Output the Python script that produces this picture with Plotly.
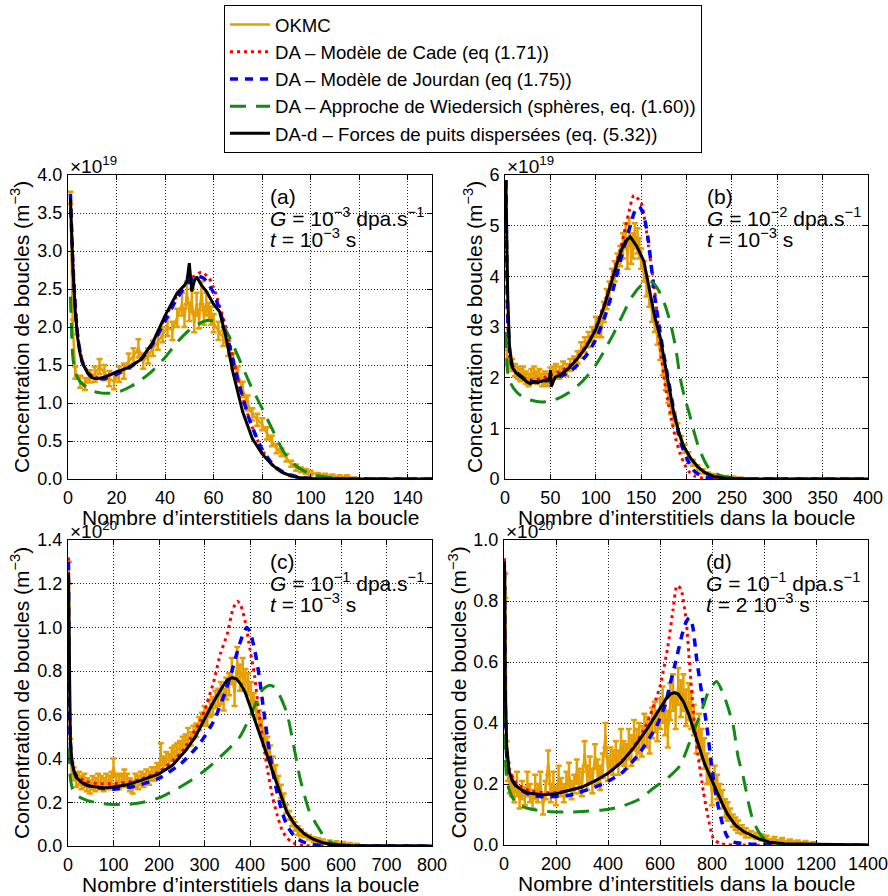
import plotly.graph_objects as go

# ---------------- Panel (a) : G = 1e-3 dpa/s, t = 1e-3 s  (units 1e19 m^-3)
A_OKMC_X = [1,2,3,5,7,9,11,13,15,17,19,21,23,25,27,29,31,33,35,37,39,41,43,45,47,48,49,50,51,52,
            53,54,55,56,57,58,59,60,62,64,66,68,70,72,74,76,78,80,82,84,86,88,90,92,94,96,98,100,103,106,
            109,112,115,118]
A_OKMC_Y = [3.7,2.0,1.4,1.28,1.25,1.35,1.38,1.48,1.4,1.32, 1.28,1.38,1.42,1.55,1.62,1.72,1.55,1.62,1.72,1.8,
            1.9,2.0,1.95,2.12,2.3,2.12,2.45,2.2,2.35,2.05, 2.3,2.1,2.45,2.15,2.3,2.2,2.15,2.05,1.95,1.85,
            1.72,1.55,1.38,1.18,1.0,0.85,0.78,0.72,0.6,0.5, 0.4,0.35,0.28,0.2,0.15,0.12,0.1,0.08,0.06,0.05,
            0.04,0.03,0.03,0.01]
A_OKMC_ERR = [0.08,0.1,0.08,0.08,0.08,0.08,0.1,0.1,0.1,0.1, 0.1,0.1,0.1,0.1,0.1,0.12,0.1,0.1,0.1,0.1,
              0.1,0.12,0.12,0.12,0.15,0.12,0.15,0.12,0.15,0.12, 0.15,0.12,0.15,0.12,0.15,0.12,0.12,0.12,0.12,0.1,
              0.1,0.1,0.1,0.1,0.1,0.08,0.08,0.08,0.08,0.07, 0.06,0.05,0.05,0.04,0.04,0.03,0.03,0.03,0.02,0.02,
              0.02,0.02,0.02,0.01]
A_CADE_X = [1,2,3,4,5,6,8,10,12,15,20,25,30,35,40,45,50,55,58,60,65,70,75,80,85,90,95,100,110,150]
A_CADE_Y = [3.75,2.9,2.3,1.9,1.68,1.55,1.42,1.36,1.34,1.34,1.4,1.47,1.58,1.8,2.12,2.42,2.62,2.72,2.65,2.52,
            2.0,1.32,0.76,0.38,0.16,0.06,0.02,0.005,0.001,0]
A_JOUR_X = [1,2,3,4,5,6,8,10,12,15,20,25,30,35,40,45,50,53,56,60,65,70,75,80,85,90,95,100,110,150]
A_JOUR_Y = [3.75,2.85,2.25,1.88,1.66,1.53,1.4,1.34,1.32,1.32,1.38,1.46,1.57,1.78,2.08,2.38,2.6,2.67,2.64,2.45,
            1.95,1.3,0.76,0.39,0.17,0.07,0.025,0.008,0.001,0]
A_WIED_X = [1,2,3,5,8,11,14,18,22,26,30,35,40,45,50,55,58,62,66,70,75,80,85,89,93,97,102,110,120,130,150]
A_WIED_Y = [2.4,1.6,1.4,1.28,1.2,1.15,1.13,1.13,1.16,1.22,1.3,1.43,1.6,1.8,1.96,2.06,2.09,2.05,1.9,1.62,
            1.25,0.93,0.6,0.35,0.2,0.11,0.05,0.015,0.004,0.001,0]
A_DAD_X = [1,2,3,4,5,6,8,10,12,15,20,22,25,30,35,40,45,48,49,50,51,52,53,55,57,60,62.5,65,68,72,
           76,80,84,88,92,96,100,110,150]
A_DAD_Y = [3.7,2.8,2.2,1.85,1.65,1.52,1.4,1.33,1.32,1.34,1.41,1.43,1.47,1.57,1.8,2.15,2.45,2.55,2.6,2.84,
           2.47,2.6,2.66,2.55,2.47,2.3,2.2,1.88,1.4,0.88,0.53,0.33,0.19,0.09,0.04,0.015,0.005,0.001,0]

# ---------------- Panel (b) : G = 1e-2 dpa/s, t = 1e-3 s  (units 1e19 m^-3)
B_OKMC_X = [2,5,8,11,14,17,20,23,26,29,32,35,38,41,44,47, 50,53,56,
            60,64,68,72,76,80,84,88,92,96,100, 103,106,109,112,115,118,121,124,127,130,
            133,135,137,139,141,143,146,148,150, 153,156,159,162,165,168,171,174,177,180,
            183,186,190,194,198,202,207,212,218,224, 230,237,244,252,260]
B_OKMC_Y = [2.4,2.3,2.25,2.15,2.1,2.05,2.1,2.0,1.95,2.05,2.1,2.0,2.05,1.95,2.0,1.95, 2.05,2.1,2.15,
            2.1,2.2,2.15,2.25,2.3,2.4,2.55,2.65,2.75,2.85,3.0, 3.0,2.95,3.3,3.55,3.7,3.95,4.1,4.25,4.4,4.6,
            4.8,4.4,4.9,4.5,4.6,4.8,4.7,4.55,4.35, 4.1,3.8,3.6,3.3,3.05,2.8,2.5,2.2,1.9,1.65,
            1.4,1.2,1.0,0.75,0.6,0.45,0.32,0.22,0.15,0.1, 0.07,0.05,0.04,0.03,0.02]
B_OKMC_ERR = [0.15,0.12,0.12,0.12,0.12,0.12,0.12,0.12,0.12,0.12,0.12,0.12,0.12,0.12,0.12,0.12, 0.15,0.12,0.12,
              0.12,0.12,0.12,0.12,0.12,0.12,0.15,0.15,0.15,0.15,0.2, 0.15,0.15,0.2,0.2,0.2,0.2,0.2,0.2,0.2,0.25,
              0.25,0.25,0.25,0.25,0.25,0.25,0.25,0.2,0.2, 0.2,0.2,0.2,0.2,0.15,0.15,0.15,0.15,0.15,0.15,
              0.12,0.12,0.1,0.1,0.08,0.08,0.06,0.05,0.04,0.03, 0.03,0.02,0.02,0.02,0.01]
B_CADE_X = [1,3,6,10,20,30,40,50,60,70,80,90,100,110,120,128,135,142,150,155,
            158,165,171,176,182,188,193,198,204,210,220,240,400]
B_CADE_Y = [5.9,3.0,2.3,2.15,2.0,1.95,1.98,2.05,2.12,2.22,2.4,2.65,3.0,3.5,4.1,4.6,5.15,5.6,5.45,5.0,
            4.6,3.7,2.6,1.9,1.3,0.8,0.5,0.28,0.12,0.05,0.01,0.001,0]
B_JOUR_X = [1,3,6,10,20,30,40,50,60,70,80,90,100,110,120,130,138,143,148,153,
            158,165,170,175,179,185,190,195,200,205,210,220,230,260,400]
B_JOUR_Y = [5.9,3.2,2.4,2.15,2.0,1.92,1.92,1.96,2.02,2.1,2.25,2.45,2.75,3.2,3.8,4.5,5.0,5.28,5.38,5.2,
            4.7,3.6,3.0,2.45,2.05,1.45,1.0,0.65,0.42,0.24,0.13,0.04,0.01,0.001,0]
B_WIED_X = [1,3,6,10,15,20,30,40,50,60,70,80,90,100,110,120,130,140,150,157,
            163,170,176,182,188,193,198,203,208,213,220,226,240,260,300,400]
B_WIED_Y = [2.9,2.1,1.9,1.78,1.68,1.62,1.55,1.52,1.54,1.6,1.7,1.84,2.02,2.25,2.55,2.88,3.25,3.6,3.82,3.9,
            3.88,3.7,3.45,3.1,2.6,2.0,1.6,1.3,0.95,0.65,0.35,0.18,0.05,0.012,0.001,0]
B_DAD_X = [1,3,5,8,12,18,24,28,32,36,40,45,49,50,51,55,60,70,80,90,100,110,118,125,130,135,138,142,145,153,
           160,165,171,175,179,186,192,197,205,212,220,230,240,260,300,400]
B_DAD_Y = [5.9,3.6,2.6,2.2,2.1,2.0,1.92,1.88,1.92,1.9,1.93,1.95,1.98,2.15,1.82,2.0,2.05,2.18,2.38,2.62,
           2.95,3.45,3.95,4.35,4.6,4.73,4.78,4.68,4.6,4.3,3.67,3.2,2.8,2.4,2.0,1.3,0.9,0.64,0.4,0.25,
           0.13,0.05,0.02,0.005,0.001,0]

# ---------------- Panel (c) : G = 1e-1 dpa/s, t = 1e-3 s  (units 1e20 m^-3)
C_OKMC_X = [2,5,8,12,18,24,30,36,42,48, 54,60,66,72,78,84,90,96,100,106, 112,118,124,130,136,142,148,154,160,166,
            172,178,184,190,196,200,204,210,216,222, 228,234,240,246,252,258,264,270,276,282,
            288,294,300,306,312,318,324,330,336,342, 348,354,360,366,372,378,384,390,396,402,
            408,414,420,426,432,438,444,450,456,462, 468,474,480,486,492,498,505,512,520,530,
            540,550,560,575,590,605,620,635]
C_OKMC_Y = [1.25,0.45,0.35,0.33,0.3,0.31,0.29,0.3,0.28,0.27, 0.29,0.28,0.3,0.29,0.28,0.3,0.29,0.31,0.36,0.3,
            0.29,0.3,0.32,0.3,0.28,0.27,0.3,0.29,0.31,0.3, 0.32,0.31,0.33,0.33,0.35,0.34,0.42,0.38,0.4,0.39,
            0.42,0.43,0.44,0.45,0.47,0.48,0.5,0.49,0.52,0.53, 0.56,0.58,0.6,0.59,0.63,0.64,0.67,0.68,0.7,0.67,
            0.72,0.74,0.8,0.7,0.84,0.77,0.8,0.76,0.74,0.7, 0.66,0.62,0.58,0.54,0.5,0.46,0.43,0.38,0.34,0.29,
            0.25,0.21,0.17,0.14,0.11,0.09,0.07,0.06,0.05,0.04, 0.03,0.025,0.02,0.015,0.012,0.01,0.008,0.005]
C_OKMC_ERR = [0.05,0.04,0.03,0.03,0.03,0.03,0.03,0.03,0.03,0.03, 0.03,0.03,0.03,0.03,0.03,0.03,0.03,0.03,0.04,0.03,
              0.03,0.03,0.03,0.03,0.03,0.03,0.03,0.03,0.03,0.03, 0.03,0.03,0.03,0.03,0.03,0.03,0.05,0.03,0.03,0.03,
              0.03,0.03,0.03,0.03,0.03,0.03,0.04,0.03,0.03,0.03, 0.03,0.03,0.04,0.04,0.04,0.04,0.04,0.04,0.05,0.05,
              0.05,0.05,0.06,0.06,0.07,0.06,0.06,0.05,0.05,0.05, 0.04,0.04,0.04,0.04,0.04,0.04,0.03,0.03,0.03,0.03,
              0.03,0.03,0.02,0.02,0.02,0.02,0.02,0.015,0.01,0.01, 0.01,0.01,0.01,0.01,0.01,0.008,0.006,0.005]
C_CADE_X = [1,3,6,10,20,40,70,100,150,200,250,290,300,320,335,350,362,372,380,390,
            400,410,420,430,440,450,460,470,480,490,500,520,800]
C_CADE_Y = [1.32,0.65,0.45,0.37,0.32,0.295,0.285,0.285,0.3,0.34,0.43,0.57,0.62,0.75,0.88,0.97,1.08,1.12,1.1,1.02,
            0.9,0.78,0.6,0.46,0.33,0.22,0.14,0.075,0.04,0.02,0.01,0.002,0]
C_JOUR_X = [1,3,6,10,20,40,70,100,150,200,250,290,320,345,360,375,385,393,400,410,
            420,430,440,450,460,470,480,490,500,515,530,560,800]
C_JOUR_Y = [1.3,0.62,0.44,0.36,0.31,0.28,0.265,0.26,0.275,0.31,0.38,0.47,0.57,0.7,0.8,0.91,0.97,1.0,0.98,0.9,
            0.78,0.62,0.47,0.34,0.24,0.16,0.1,0.065,0.04,0.02,0.01,0.002,0]
C_WIED_X = [1,3,6,10,20,40,70,100,130,165,200,238,270,297,320,356,378,393,410,422,
            433,444,455,465,481,495,510,530,547,570,600,800]
C_WIED_Y = [0.45,0.36,0.3,0.26,0.23,0.21,0.195,0.19,0.19,0.2,0.22,0.26,0.3,0.34,0.38,0.45,0.5,0.56,0.64,0.7,
            0.725,0.736,0.725,0.69,0.61,0.47,0.31,0.16,0.095,0.025,0.004,0]
C_DAD_X = [1,3,5,8,12,20,30,45,60,80,100,130,160,200,230,260,280,300,320,340,
           350,360,370,380,390,400,410,420,430,440,450,460,470,480,490,500,520,540,560,580,620,800]
C_DAD_Y = [1.25,0.75,0.5,0.4,0.35,0.31,0.29,0.275,0.27,0.265,0.27,0.28,0.3,0.33,0.37,0.44,0.5,0.58,0.66,0.73,
           0.76,0.77,0.765,0.74,0.7,0.64,0.58,0.52,0.46,0.4,0.33,0.27,0.21,0.16,0.125,0.095,0.055,0.03,0.015,0.007,
           0.002,0]

# ---------------- Panel (d) : G = 1e-1 dpa/s, t = 2e-3 s  (units 1e20 m^-3)
D_OKMC_X = [5,10,15,22,30,40,50,60,70,80, 90,100,110,120,130,140,150,160,170,180,
            190,200,210,220,230,240,250,260,270,280, 290,300,310,320,330,340,350,360,370,380,
            390,400,410,420,430,440,450,460,470,480, 490,500,510,520,530,540,550,560,570,580,
            590,600,610,620,630,640,650,660,670,680, 690,700,710,720,730,740,750,760,770,780,
            790,800,810,820,830,840,850,860,870,880, 890,900,915,930,950,970,990,1010,1040,1070,
            1100,1130,1160,1190]
D_OKMC_Y = [0.85,0.3,0.24,0.2,0.19,0.17,0.2,0.15,0.18,0.16, 0.2,0.17,0.15,0.19,0.17,0.2,0.13,0.18,0.27,0.17,
            0.2,0.16,0.22,0.19,0.17,0.2,0.23,0.18,0.2,0.24, 0.21,0.2,0.3,0.22,0.25,0.21,0.29,0.24,0.22,0.26,
            0.36,0.25,0.28,0.27,0.3,0.27,0.33,0.3,0.29,0.33, 0.31,0.36,0.33,0.35,0.34,0.38,0.37,0.35,0.4,0.42,
            0.39,0.43,0.46,0.42,0.38,0.47,0.5,0.44,0.52,0.48, 0.5,0.45,0.47,0.44,0.41,0.35,0.38,0.33,0.3,0.25,
            0.24,0.17,0.22,0.19,0.17,0.15,0.12,0.11,0.1,0.08, 0.07,0.06,0.05,0.04,0.035,0.03,0.025,0.02,0.018,0.015,
            0.012,0.01,0.008,0.005]
D_OKMC_ERR = [0.04,0.04,0.03,0.03,0.03,0.03,0.04,0.03,0.03,0.03, 0.04,0.03,0.03,0.04,0.03,0.04,0.03,0.03,0.04,0.03,
              0.04,0.03,0.04,0.03,0.03,0.04,0.04,0.03,0.03,0.04, 0.04,0.04,0.04,0.04,0.04,0.04,0.04,0.04,0.04,0.04,
              0.04,0.04,0.04,0.04,0.04,0.04,0.05,0.04,0.04,0.05, 0.05,0.05,0.05,0.05,0.05,0.05,0.05,0.05,0.05,0.05,
              0.05,0.05,0.06,0.06,0.06,0.06,0.06,0.06,0.06,0.06, 0.06,0.06,0.06,0.06,0.05,0.05,0.05,0.05,0.05,0.05,
              0.04,0.04,0.04,0.04,0.03,0.03,0.03,0.03,0.02,0.02, 0.02,0.02,0.015,0.015,0.01,0.01,0.01,0.01,0.008,0.008,
              0.006,0.005,0.005,0.004]
D_CADE_X = [2,5,10,20,50,100,150,200,300,400,480,540,560,600,630,650,665,680,700,715,
            728,745,767,785,805,830,860,1400]
D_CADE_Y = [0.94,0.5,0.32,0.25,0.2,0.178,0.172,0.172,0.19,0.235,0.3,0.38,0.42,0.52,0.65,0.77,0.85,0.84,0.74,0.58,
            0.44,0.3,0.175,0.09,0.022,0.005,0.001,0]
D_JOUR_X = [2,5,10,20,50,100,150,250,380,458,520,587,620,638,660,685,700,712,725,741,
            760,780,800,818,840,857,880,1400]
D_JOUR_Y = [0.9,0.45,0.3,0.23,0.19,0.165,0.158,0.163,0.2,0.24,0.3,0.39,0.46,0.525,0.6,0.69,0.73,0.745,0.72,0.61,
            0.5,0.39,0.25,0.15,0.07,0.03,0.01,0]
D_WIED_X = [2,5,10,20,40,60,100,163,250,304,380,446,520,574,630,677,728,760,790,818,
            850,882,900,921,940,959,990,1020,1100,1400]
D_WIED_Y = [0.45,0.3,0.22,0.18,0.145,0.13,0.118,0.11,0.108,0.11,0.115,0.125,0.15,0.186,0.22,0.26,0.37,0.44,0.51,0.536,
            0.48,0.39,0.29,0.22,0.14,0.077,0.03,0.01,0.002,0]
D_DAD_X = [2,5,10,15,20,30,45,60,80,100,150,200,250,300,350,400,450,500,550,600,
           620,640,655,670,690,710,728,750,770,790,805,820,840,860,870,890,920,946,980,1020,1080,1400]
D_DAD_Y = [0.93,0.5,0.33,0.27,0.24,0.215,0.195,0.185,0.175,0.17,0.165,0.168,0.178,0.19,0.21,0.235,0.27,0.32,0.38,0.45,
           0.475,0.495,0.5,0.495,0.47,0.43,0.38,0.32,0.27,0.23,0.2,0.17,0.135,0.1,0.087,0.065,0.045,0.033,0.02,0.01,
           0.004,0]

# ---------------- Axes ticks / labels
A_XTICKS = [0,20,40,60,80,100,120,140]
A_YTICKS = [0.0,0.5,1.0,1.5,2.0,2.5,3.0,3.5,4.0]
B_XTICKS = [0,50,100,150,200,250,300,350,400]
B_YTICKS = [0,1,2,3,4,5,6]
C_XTICKS = [0,100,200,300,400,500,600,700,800]
C_YTICKS = [0.0,0.2,0.4,0.6,0.8,1.0,1.2,1.4]
D_XTICKS = [0,200,400,600,800,1000,1200,1400]
D_YTICKS = [0.0,0.2,0.4,0.6,0.8,1.0]

SERIES_NAMES = ["OKMC",
                "DA – Modèle de Cade (eq (1.71))",
                "DA – Modèle de Jourdan (eq (1.75))",
                "DA – Approche de Wiedersich (sphères, eq. (1.60))",
                "DA-d – Forces de puits dispersées (eq. (5.32))"]
PANEL_LABELS = ["(a)", "(b)", "(c)", "(d)"]
PANEL_G = ["−3", "−2", "−1", "−1"]
PANEL_T = ["10<sup>−3</sup> s", "10<sup>−3</sup> s", "10<sup>−3</sup> s", "2 10<sup>−3</sup> s"]
PANEL_EXP = ["19", "19", "20", "20"]

FONT = "Liberation Sans, Arial, Helvetica, sans-serif"
ORANGE = "#E69F00"
W, H = 888, 896

panels = [
    dict(okx=A_OKMC_X, oky=A_OKMC_Y, oke=A_OKMC_ERR, cx=A_CADE_X, cy=A_CADE_Y, jx=A_JOUR_X, jy=A_JOUR_Y,
         wx=A_WIED_X, wy=A_WIED_Y, dx=A_DAD_X, dy=A_DAD_Y, xr=[0,150], yr=[0,4.0], xt=A_XTICKS, yt=A_YTICKS,
         yfmt=".1f", px=(68,432), py=(175,479), ytx=-46),
    dict(okx=B_OKMC_X, oky=B_OKMC_Y, oke=B_OKMC_ERR, cx=B_CADE_X, cy=B_CADE_Y, jx=B_JOUR_X, jy=B_JOUR_Y,
         wx=B_WIED_X, wy=B_WIED_Y, dx=B_DAD_X, dy=B_DAD_Y, xr=[0,400], yr=[0,6], xt=B_XTICKS, yt=B_YTICKS,
         yfmt="d", px=(505,868), py=(175,479), ytx=-30),
    dict(okx=C_OKMC_X, oky=C_OKMC_Y, oke=C_OKMC_ERR, cx=C_CADE_X, cy=C_CADE_Y, jx=C_JOUR_X, jy=C_JOUR_Y,
         wx=C_WIED_X, wy=C_WIED_Y, dx=C_DAD_X, dy=C_DAD_Y, xr=[0,800], yr=[0,1.4], xt=C_XTICKS, yt=C_YTICKS,
         yfmt=".1f", px=(68,432), py=(540,846), ytx=-46),
    dict(okx=D_OKMC_X, oky=D_OKMC_Y, oke=D_OKMC_ERR, cx=D_CADE_X, cy=D_CADE_Y, jx=D_JOUR_X, jy=D_JOUR_Y,
         wx=D_WIED_X, wy=D_WIED_Y, dx=D_DAD_X, dy=D_DAD_Y, xr=[0,1400], yr=[0,1.0], xt=D_XTICKS, yt=D_YTICKS,
         yfmt=".1f", px=(504,868), py=(540,845), ytx=-45),
]

fig = go.Figure()
annotations = []
layout_axes = {}

for i, p in enumerate(panels):
    n = i + 1
    xa = "x" if n == 1 else f"x{n}"
    ya = "y" if n == 1 else f"y{n}"
    show = (n == 1)
    fig.add_trace(go.Scatter(
        x=p["okx"], y=p["oky"], xaxis=xa, yaxis=ya, mode="lines", name=SERIES_NAMES[0],
        legendgroup="g0", showlegend=show, line=dict(color=ORANGE, width=2.5),
        error_y=dict(type="data", array=p["oke"], visible=True, color=ORANGE, thickness=2.5, width=3)))
    fig.add_trace(go.Scatter(
        x=p["cx"], y=p["cy"], xaxis=xa, yaxis=ya, mode="lines", name=SERIES_NAMES[1],
        legendgroup="g1", showlegend=show,
        line=dict(color="#FF0000", width=3, dash="3px,4px", shape="spline", smoothing=0.6)))
    fig.add_trace(go.Scatter(
        x=p["jx"], y=p["jy"], xaxis=xa, yaxis=ya, mode="lines", name=SERIES_NAMES[2],
        legendgroup="g2", showlegend=show,
        line=dict(color="#0000FF", width=3.5, dash="8px,7px", shape="spline", smoothing=0.6)))
    fig.add_trace(go.Scatter(
        x=p["wx"], y=p["wy"], xaxis=xa, yaxis=ya, mode="lines", name=SERIES_NAMES[3],
        legendgroup="g3", showlegend=show,
        line=dict(color="#138A13", width=3, dash="16px,10px", shape="spline", smoothing=0.6)))
    fig.add_trace(go.Scatter(
        x=p["dx"], y=p["dy"], xaxis=xa, yaxis=ya, mode="lines", name=SERIES_NAMES[4],
        legendgroup="g4", showlegend=show, line=dict(color="black", width=3)))

    x0, x1 = p["px"]
    yt0, yb = p["py"]
    common = dict(showline=True, linecolor="black", linewidth=1, mirror="allticks",
                  ticks="inside", ticklen=5, tickcolor="black", showgrid=True, gridcolor="#222222",
                  griddash="1px,2px", gridwidth=1, zeroline=False, ticklabeloverflow="allow",
                  tickfont=dict(family=FONT, size=18, color="black"))
    layout_axes["xaxis" if n == 1 else f"xaxis{n}"] = dict(
        domain=[x0 / W, x1 / W], range=p["xr"], tickvals=p["xt"], anchor=ya,
        ticklabelstandoff=2, **common)
    layout_axes["yaxis" if n == 1 else f"yaxis{n}"] = dict(
        domain=[1 - yb / H, 1 - yt0 / H], range=p["yr"], tickvals=p["yt"], tickformat=p["yfmt"],
        anchor=xa, ticklabelstandoff=1, **common)

    xd = f"{xa} domain"
    yd = f"{ya} domain"
    # axis titles
    annotations.append(dict(text="Nombre d’interstitiels dans la boucle", xref=xd, yref=yd, x=0.5, y=0,
                            xanchor="center", yanchor="top", yshift=-25, showarrow=False,
                            font=dict(family=FONT, size=21, color="black")))
    annotations.append(dict(text="Concentration de boucles (m<sup>−3</sup>)", xref=xd, yref=yd, x=0, y=0.5,
                            xanchor="center", yanchor="middle", xshift=p["ytx"] - 2, textangle=-90,
                            showarrow=False, font=dict(family=FONT, size=21, color="black")))
    # scale factor
    annotations.append(dict(text=f"×10<sup>{PANEL_EXP[i]}</sup>", xref=xd, yref=yd, x=0, y=1,
                            xanchor="left", yanchor="bottom", yshift=-4, showarrow=False,
                            font=dict(family=FONT, size=19, color="black")))
    # in-panel texts
    lines = [PANEL_LABELS[i],
             f"<i>G</i> = 10<sup>{PANEL_G[i]}</sup> dpa.s<sup>−1</sup>",
             f"<i>t</i> = {PANEL_T[i]}"]
    for k, (txt, sh) in enumerate(zip(lines, [-21, -42, -63])):
        annotations.append(dict(text=txt, xref=xd, yref=yd, x=0.55, y=1, xanchor="left",
                                yanchor="middle", yshift=sh, showarrow=False,
                                font=dict(family=FONT, size=21, color="black")))

fig.update_layout(
    width=W, height=H, margin=dict(l=0, r=0, t=0, b=0, autoexpand=False),
    paper_bgcolor="white", plot_bgcolor="white",
    font=dict(family=FONT, size=18, color="black"),
    legend=dict(x=224 / W, y=1 - 5 / H, xanchor="left", yanchor="top", bordercolor="black",
                borderwidth=1, bgcolor="white", font=dict(family=FONT, size=18.6, color="black"),
                traceorder="grouped", tracegroupgap=0, itemwidth=40),
    annotations=annotations,
    **layout_axes,
)

fig.write_html("out.html", config={"displayModeBar": False},
               post_script="document.body.style.margin='0';document.body.style.overflow='hidden';")
